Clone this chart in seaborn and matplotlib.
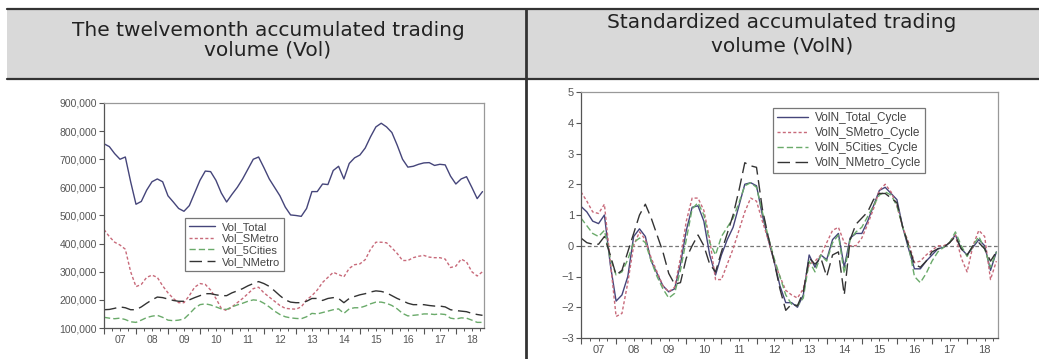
import numpy as np
import pandas as pd
import matplotlib
matplotlib.use("Agg")
import matplotlib.pyplot as plt
from matplotlib.patches import Rectangle
from matplotlib.lines import Line2D
from matplotlib.ticker import FuncFormatter, MultipleLocator, FixedLocator
import seaborn as sns

# bimonthly observations, Jan 2007 .. Nov 2018
months = pd.date_range("2007-01-01", periods=72, freq="2MS")
t = months.year + (months.month - 1) / 12.0

# twelvemonth accumulated trading volume (thousands)
vol_total = [755, 745, 720, 700, 708, 620, 540, 550, 590, 620, 630, 620,
             570, 548, 525, 515, 535, 580, 625, 658, 656, 625, 580, 548,
             575, 600, 630, 665, 700, 708, 670, 630, 600, 570, 530, 502,
             500, 497, 525, 585, 585, 612, 610, 660, 675, 630, 685, 705,
             715, 740, 780, 815, 828, 815, 795, 750, 700, 672, 675, 682,
             687, 688, 678, 682, 680, 640, 612, 630, 638, 600, 560, 585]
vol_smetro = [450, 425, 405, 395, 380, 300, 247, 255, 280, 288, 280, 250,
              225, 205, 190, 190, 215, 245, 258, 255, 235, 205, 170, 162,
              175, 190, 205, 222, 240, 245, 225, 210, 195, 180, 170, 168,
              167, 175, 200, 215, 235, 262, 280, 298, 290, 282, 312, 325,
              328, 343, 380, 405, 405, 403, 385, 365, 340, 340, 350, 355,
              358, 352, 350, 350, 345, 315, 320, 345, 335, 300, 285, 300]
vol_5cities = [138, 135, 133, 135, 130, 122, 120, 128, 137, 142, 145, 138,
               128, 126, 128, 132, 150, 170, 183, 186, 182, 175, 168, 166,
               175, 182, 188, 195, 200, 198, 188, 175, 160, 148, 140, 136,
               134, 133, 140, 152, 150, 155, 160, 165, 168, 152, 168, 172,
               172, 178, 186, 192, 192, 188, 180, 168, 152, 143, 145, 147,
               150, 150, 148, 150, 148, 135, 132, 136, 135, 128, 120, 120]
vol_nmetro = [165, 166, 170, 175, 172, 165, 165, 175, 188, 200, 210, 208,
              203, 198, 195, 195, 200, 208, 215, 222, 222, 218, 215, 215,
              225, 232, 240, 250, 258, 265, 258, 248, 232, 215, 200, 192,
              190, 190, 195, 205, 205, 198, 205, 208, 205, 190, 205, 212,
              218, 222, 228, 232, 230, 225, 215, 205, 197, 188, 183, 183,
              183, 180, 178, 178, 175, 165, 162, 160, 158, 152, 148, 145]

# standardized cycles
voln_total = [1.28, 1.1, 0.8, 0.72, 1.0, -0.6, -1.8, -1.6, -1.0, 0.3, 0.55, 0.3,
              -0.5, -0.9, -1.3, -1.5, -1.4, -0.6, 0.5, 1.25, 1.3, 0.8, -0.3, -0.95,
              -0.3, 0.2, 0.6, 1.3, 2.0, 2.05, 1.95, 1.0, 0.2, -0.5, -1.3, -1.85,
              -1.85, -2.0, -1.6, -0.3, -0.7, -0.3, -0.45, 0.2, 0.4, -0.7, 0.25, 0.4,
              0.4, 0.8, 1.3, 1.8, 1.9, 1.7, 1.5, 0.6, -0.1, -0.75, -0.75, -0.5,
              -0.3, -0.1, -0.05, 0.1, 0.35, -0.1, -0.3, -0.05, 0.2, 0.0, -0.8, -0.2]
voln_smetro = [1.75, 1.45, 1.1, 1.05, 1.35, -0.5, -2.3, -2.2, -1.2, 0.0, 0.45, 0.2,
               -0.4, -0.85, -1.3, -1.5, -1.35, -0.4, 0.8, 1.55, 1.55, 1.15, 0.2, -1.1,
               -1.1, -0.6, -0.1, 0.5, 1.1, 1.55, 1.45, 0.8, 0.2, -0.5, -1.0, -1.45,
               -1.6, -1.7, -1.4, -0.6, -0.5, -0.3, 0.1, 0.5, 0.6, 0.1, 0.0, 0.0,
               0.25, 0.7, 1.2, 1.8, 2.0, 1.75, 1.3, 0.6, 0.1, -0.55, -0.5, -0.3,
               -0.15, 0.0, 0.0, 0.1, 0.35, -0.4, -0.85, 0.0, 0.5, 0.3, -1.1, -0.5]
voln_5cities = [0.9, 0.65, 0.4, 0.3, 0.5, -0.4, -0.95, -0.85, -0.45, 0.1, 0.25, 0.1,
                -0.5, -1.0, -1.4, -1.7, -1.55, -0.8, 0.2, 1.2, 1.4, 1.0, 0.1, -0.3,
                0.3, 0.6, 0.9, 1.4, 1.95, 2.05, 1.9, 1.1, 0.3, -0.4, -1.0, -1.6,
                -1.9, -1.95, -1.7, -0.5, -0.85, -0.3, -0.5, 0.1, 0.35, -0.9, 0.2, 0.45,
                0.6, 0.95, 1.3, 1.65, 1.75, 1.65, 1.3, 0.6, 0.0, -1.0, -1.2, -0.9,
                -0.5, -0.2, -0.05, 0.1, 0.45, 0.0, -0.35, 0.0, 0.3, -0.1, -0.7, -0.2]
voln_nmetro = [0.25, 0.1, 0.05, 0.05, 0.3, -0.3, -0.95, -0.8, -0.2, 0.4, 1.0, 1.35,
               0.9, 0.35, -0.2, -0.9, -1.25, -1.2, -0.4, 0.0, 0.35, 0.0, -0.6, -0.85,
               -0.2, 0.4, 1.0, 1.8, 2.7, 2.6, 2.55, 1.2, 0.3, -0.5, -1.4, -2.1,
               -1.9, -1.95, -1.5, -0.4, -0.6, -0.4, -1.0, -0.3, -0.2, -1.6, 0.2, 0.7,
               0.9, 1.1, 1.5, 1.7, 1.7, 1.55, 1.4, 0.6, 0.0, -0.6, -0.7, -0.5,
               -0.2, -0.1, -0.05, 0.1, 0.3, -0.1, -0.3, 0.0, 0.1, -0.1, -0.5, -0.2]

year_labels = ["07", "08", "09", "10", "11", "12", "13", "14", "15", "16", "17", "18"]
left_names = ["Vol_Total", "Vol_SMetro", "Vol_5Cities", "Vol_NMetro"]
right_names = ["VolN_Total_Cycle", "VolN_SMetro_Cycle", "VolN_5Cities_Cycle", "VolN_NMetro_Cycle"]

colors = ["#45457a", "#c86a7a", "#6aaa6a", "#333333"]
dashes = ["-", (0, (2.2, 1.6)), (0, (4.5, 2.2)), (0, (9, 4))]

sns.set_style("white")
plt.rcParams["font.family"] = ["Liberation Sans", "DejaVu Sans"]

W, H = 1039, 359
fig = plt.figure(figsize=(W / 100, H / 100), dpi=100)


def fx(px):
    return px / W


def fy(py):
    return 1 - py / H


# header band of the table
fig.patches.append(Rectangle((fx(7), fy(79)), 1 - fx(7), fy(9) - fy(79),
                             transform=fig.transFigure, facecolor="#d9d9d9",
                             edgecolor="none", zorder=0))
for yy in (9, 79):
    fig.add_artist(Line2D([fx(7), 1], [fy(yy), fy(yy)], color="#333333", lw=1.6))
fig.add_artist(Line2D([fx(526), fx(526)], [fy(9), 0], color="#333333", lw=2))

hdr = dict(ha="center", va="center", fontsize=14.5, color="#222222",
           family=["DejaVu Sans"])
fig.text(fx(268), fy(30), "The twelvemonth accumulated trading", **hdr)
fig.text(fx(268), fy(50), "volume (Vol)", **hdr)
fig.text(fx(782), fy(23), "Standardized accumulated trading", **hdr)
fig.text(fx(782), fy(46), "volume (VolN)", **hdr)

axL = fig.add_axes([fx(104), fy(328), fx(484) - fx(104), fy(103) - fy(328)])
axR = fig.add_axes([fx(581), fy(338), fx(998) - fx(581), fy(92) - fy(338)])

for name, vals, c, d in zip(left_names, [vol_total, vol_smetro, vol_5cities, vol_nmetro], colors, dashes):
    sns.lineplot(x=t, y=np.array(vals) * 1000, ax=axL, color=c, linestyle=d,
                 linewidth=1.0, label=name)

axR.axhline(0, color="#777777", lw=0.9, linestyle=(0, (3, 2)))
for name, vals, c, d in zip(right_names, [voln_total, voln_smetro, voln_5cities, voln_nmetro], colors, dashes):
    sns.lineplot(x=t, y=vals, ax=axR, color=c, linestyle=d, linewidth=1.0, label=name)

axL.set_ylim(100000, 900000)
axL.yaxis.set_major_locator(MultipleLocator(100000))
axL.yaxis.set_major_formatter(FuncFormatter(lambda v, p: f"{int(v):,}"))
axR.set_ylim(-3, 5)
axR.yaxis.set_major_locator(MultipleLocator(1))

for ax, fs in ((axL, 7.5), (axR, 8)):
    ax.set_xlim(2007.0, 2018.88)
    ax.set_xlabel("")
    ax.set_ylabel("")
    ax.xaxis.set_major_locator(MultipleLocator(1))
    ax.xaxis.set_minor_locator(MultipleLocator(0.25))
    ax.tick_params(axis="x", which="major", length=4, width=0.8, color="#555555",
                   labelbottom=False, direction="out", bottom=True)
    ax.tick_params(axis="x", which="minor", length=2.5, width=0.7, color="#555555",
                   direction="out", bottom=True)
    ax.tick_params(axis="y", length=3.5, width=0.8, color="#555555", labelsize=fs,
                   labelcolor="#555555", direction="out", left=True, pad=1.5)
    for s in ("left", "bottom"):
        ax.spines[s].set_color("#555555")
        ax.spines[s].set_linewidth(0.9)
    for s in ("top", "right"):
        ax.spines[s].set_color("#999999")
        ax.spines[s].set_linewidth(0.9)
    sec = ax.secondary_xaxis("bottom")
    sec.xaxis.set_major_locator(FixedLocator(np.arange(2007.5, 2019.0, 1.0)))
    sec.set_xticklabels(year_labels)
    sec.tick_params(length=0, labelsize=fs, labelcolor="#555555", pad=5)
    sec.spines["bottom"].set_visible(False)

legL = axL.legend(loc="upper left", bbox_to_anchor=(0.213, 0.489), borderaxespad=0,
                  fontsize=8, frameon=True, fancybox=False, handlelength=2.4,
                  labelspacing=0.15, borderpad=0.35, handletextpad=0.6)
legR = axR.legend(loc="upper left", bbox_to_anchor=(0.46, 0.935), borderaxespad=0,
                  fontsize=8.5, frameon=True, fancybox=False, handlelength=2.6,
                  labelspacing=0.25, borderpad=0.35, handletextpad=0.6)
for leg in (legL, legR):
    leg.get_frame().set_edgecolor("#555555")
    leg.get_frame().set_linewidth(0.9)
    for txt in leg.get_texts():
        txt.set_color("#444444")

fig.savefig("out.png", dpi=100)
